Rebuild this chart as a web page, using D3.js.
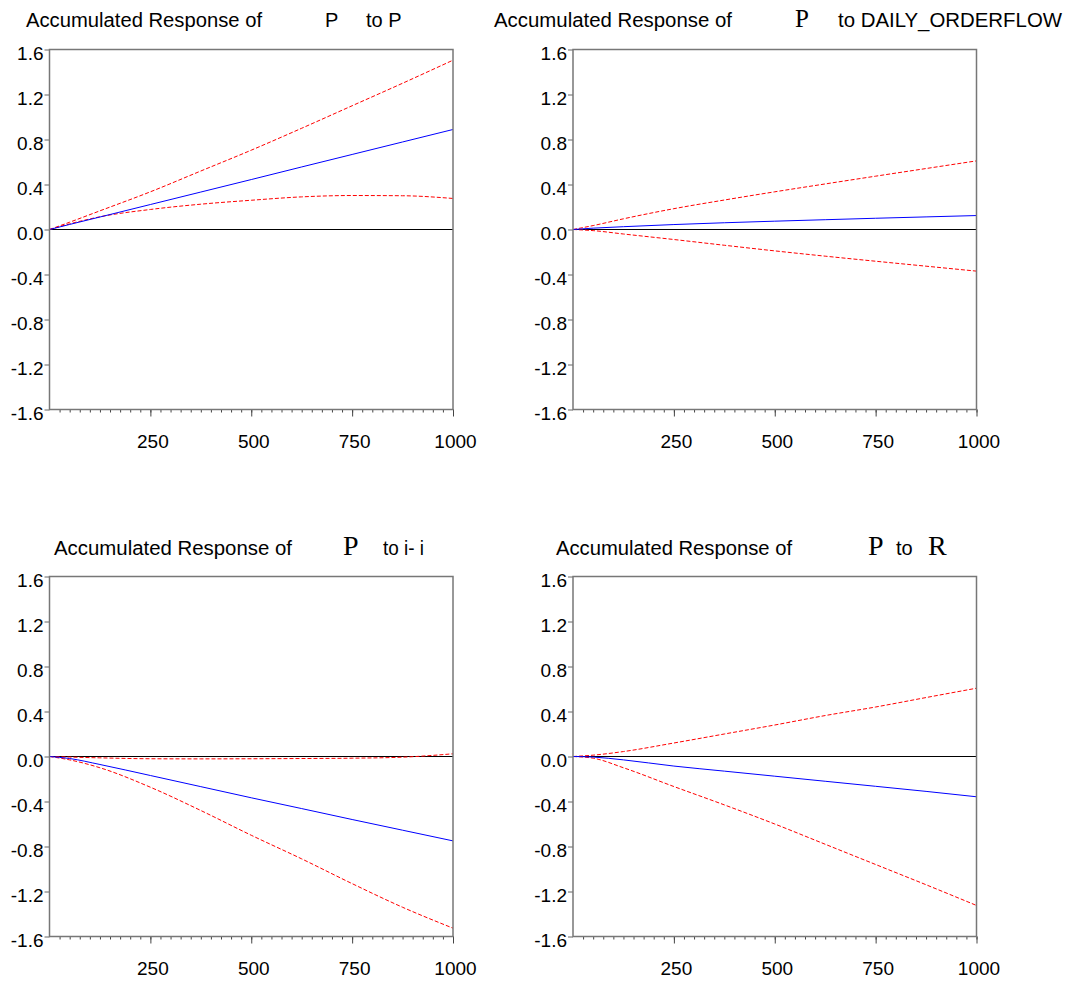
<!DOCTYPE html>
<html>
<head>
<meta charset="utf-8">
<script src="https://cdn.jsdelivr.net/npm/d3@7"></script>
<style>
  body { margin: 0; background: #fff; }
  svg { display: block; }
</style>
</head>
<body>
<div class="chart"></div>
<script>
var steps = [0, 50, 125, 250, 375, 500, 625, 750, 875, 1000];

// accumulated responses (blue = point estimate, red = +/- 2 s.e.)
var pToP_resp  = [0, 0.045, 0.111, 0.222, 0.333, 0.444, 0.556, 0.667, 0.778, 0.889];
var pToP_upper = [0, 0.065, 0.166, 0.335, 0.52, 0.705, 0.90, 1.10, 1.30, 1.505];
var pToP_lower = [0, 0.05, 0.113, 0.178, 0.225, 0.26, 0.29, 0.302, 0.30, 0.276];

var pToOf_resp  = [0, 0.012, 0.025, 0.044, 0.06, 0.074, 0.087, 0.1, 0.112, 0.124];
var pToOf_upper = [0, 0.035, 0.095, 0.185, 0.262, 0.335, 0.405, 0.474, 0.542, 0.61];
var pToOf_lower = [0, -0.01, -0.04, -0.089, -0.14, -0.19, -0.237, -0.282, -0.326, -0.37];

var pToI_resp  = [0, -0.018, -0.071, -0.169, -0.268, -0.367, -0.463, -0.56, -0.655, -0.75];
var pToI_upper = [0, -0.005, -0.012, -0.02, -0.021, -0.02, -0.018, -0.015, -0.006, 0.024];
var pToI_lower = [0, -0.03, -0.10, -0.273, -0.48, -0.70, -0.91, -1.13, -1.34, -1.526];

var pToR_resp  = [0, -0.005, -0.03, -0.085, -0.13, -0.175, -0.22, -0.265, -0.31, -0.358];
var pToR_upper = [0, 0.012, 0.044, 0.12, 0.2, 0.28, 0.364, 0.44, 0.524, 0.607];
var pToR_lower = [0, -0.015, -0.10, -0.267, -0.43, -0.60, -0.78, -0.96, -1.14, -1.324];

// tick labels
var yTicks = [-1.6, -1.2, -0.8, -0.4, 0, 0.4, 0.8, 1.2, 1.6];
var xMajor = [250, 500, 750, 1000];
var xMinor = d3.range(25, 1001, 25);

// title pieces: [text, serif?]
var title1 = [["Accumulated Response of", false], ["P", false], ["to P", false]];
var title2 = [["Accumulated Response of", false], ["P", true], ["to DAILY_ORDERFLOW", false]];
var title3 = [["Accumulated Response of", false], ["P", true], ["to i- i", false]];
var title4 = [["Accumulated Response of", false], ["P", true], ["to", false], ["R", true]];

var W = 1070, H = 982;
var svg = d3.select(".chart").append("svg")
	.attr("width", W)
	.attr("height", H);

// layout of the four panels
var panels = [
	{ left: 49.5, top: 49.5, title: title1, resp: pToP_resp, upper: pToP_upper, lower: pToP_lower,
	  tx: [26, 325, 366], tw: [236, null, null], ty: 27, serifSize: 24 },
	{ left: 573, top: 49.5, title: title2, resp: pToOf_resp, upper: pToOf_upper, lower: pToOf_lower,
	  tx: [494, 795, 838], tw: [238, null, 224], ty: 27, serifSize: 25 },
	{ left: 49.5, top: 576.5, title: title3, resp: pToI_resp, upper: pToI_upper, lower: pToI_lower,
	  tx: [54, 343, 383], tw: [238, null, 41], ty: 555, serifSize: 28 },
	{ left: 573, top: 576.5, title: title4, resp: pToR_resp, upper: pToR_upper, lower: pToR_lower,
	  tx: [556, 868, 896, 928], tw: [236, null, null, null], ty: 555, serifSize: 28 }
];
var pw = 403.5, ph = 360;
var sans = "'Liberation Sans', Arial, sans-serif";

panels.forEach(function (p) {
	var g = svg.append("g")
		.attr("transform", "translate(" + p.left + "," + p.top + ")");

	var x = d3.scaleLinear().domain([0, 1000]).range([0, pw]);
	var y = d3.scaleLinear().domain([-1.6, 1.6]).range([ph, 0]);

	// title
	p.title.forEach(function (t, i) {
		var txt = svg.append("text")
			.attr("x", p.tx[i])
			.attr("y", p.ty)
			.text(t[0]);
		if (t[1]) {
			txt.style("font-family", "'Liberation Serif', 'Times New Roman', serif")
				.style("font-size", p.serifSize + "px");
		} else {
			txt.style("font-family", sans)
				.style("font-size", "20px");
			if (p.tw[i]) txt.attr("textLength", p.tw[i]).attr("lengthAdjust", "spacingAndGlyphs");
		}
	});

	// y axis
	var ya = g.append("g")
		.call(d3.axisLeft(y).tickValues(yTicks).tickSize(5).tickPadding(1)
			.tickFormat(function (d) { return d.toFixed(1); }));
	ya.select(".domain").remove();
	ya.selectAll("line").attr("stroke", "#666");
	ya.selectAll("text")
		.attr("dy", "0.53em")
		.style("font-family", sans)
		.style("font-size", "19px")
		.attr("fill", "#000");

	// x axis minor ticks
	var xm = g.append("g")
		.attr("transform", "translate(0," + ph + ")")
		.call(d3.axisBottom(x).tickValues(xMinor).tickSize(3).tickFormat(""));
	xm.select(".domain").remove();
	xm.selectAll("line").attr("stroke", "#444");

	// x axis major ticks
	var xa = g.append("g")
		.attr("transform", "translate(0," + ph + ")")
		.call(d3.axisBottom(x).tickValues(xMajor).tickSize(7)
			.tickFormat(function (d) { return String(d); }));
	xa.select(".domain").remove();
	xa.selectAll("line").attr("stroke", "#444");
	xa.selectAll("text")
		.attr("y", 38.5)
		.attr("dy", 0)
		.attr("dx", 2)
		.style("font-family", sans)
		.style("font-size", "19px")
		.attr("fill", "#000");

	// zero line
	g.append("line")
		.attr("x1", 0).attr("x2", pw)
		.attr("y1", y(0)).attr("y2", y(0))
		.attr("stroke", "#000")
		.attr("stroke-width", 1);

	var line = d3.line()
		.x(function (d) { return x(d[0]); })
		.y(function (d) { return y(d[1]); })
		.curve(d3.curveMonotoneX);

	function pts(vals) { return steps.map(function (s, i) { return [s, vals[i]]; }); }

	g.append("path")
		.attr("d", line(pts(p.upper)))
		.attr("fill", "none").attr("stroke", "#ff0000")
		.attr("stroke-width", 1).attr("stroke-dasharray", "4,2");
	g.append("path")
		.attr("d", line(pts(p.lower)))
		.attr("fill", "none").attr("stroke", "#ff0000")
		.attr("stroke-width", 1).attr("stroke-dasharray", "4,2");
	g.append("path")
		.attr("d", line(pts(p.resp)))
		.attr("fill", "none").attr("stroke", "#0000ff")
		.attr("stroke-width", 1);

	// frame
	g.append("rect")
		.attr("width", pw).attr("height", ph)
		.attr("fill", "none")
		.attr("stroke", "#777")
		.attr("stroke-width", 1.5);
});
</script>
</body>
</html>
